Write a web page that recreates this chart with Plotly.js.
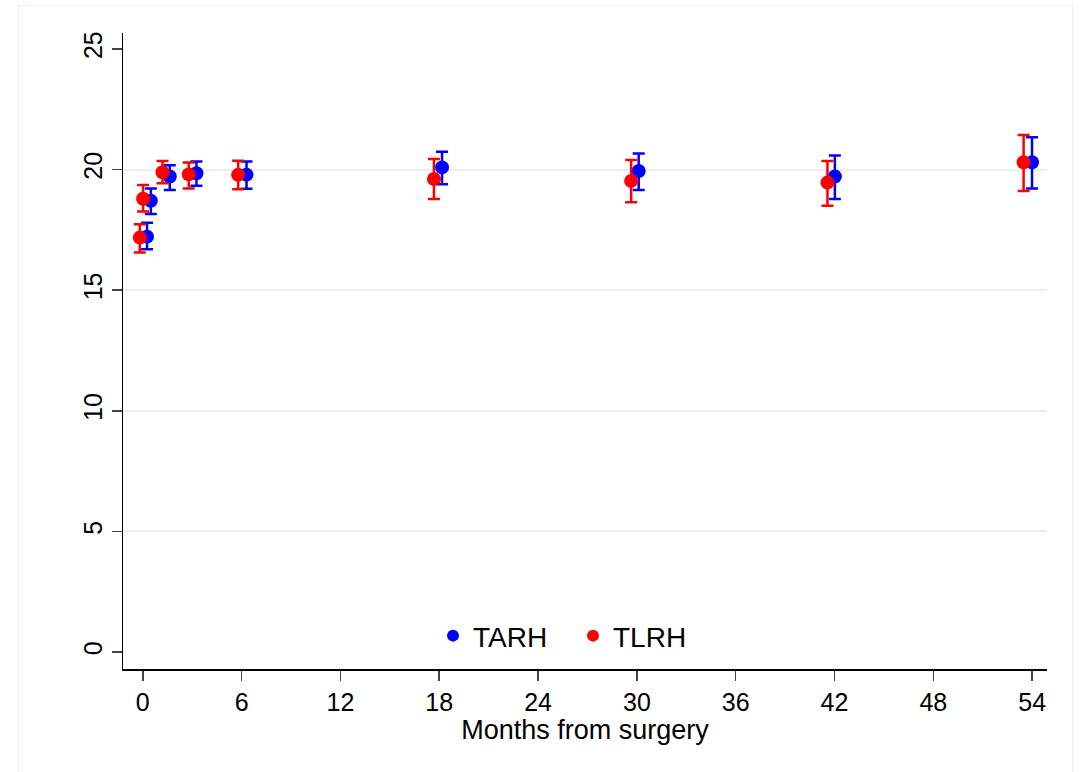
<!DOCTYPE html>
<html>
<head>
<meta charset="utf-8">
<script src="https://cdn.plot.ly/plotly-3.0.1.min.js"></script>
<style>
html,body{margin:0;padding:0;background:#fff;}
#frame{position:absolute;left:18px;top:5px;width:1055px;height:800px;border:1px solid #eaf1f1;box-sizing:border-box;}
#chart{position:absolute;left:0;top:0;width:1084px;height:772px;}
</style>
</head>
<body>
<div id="frame"></div>
<div id="chart"></div>
<script>
// TARH (blue)
const tarhX = [0.26, 0.49, 1.64, 3.26, 6.3, 18.17, 30.11, 42.02, 53.99];
const tarhY = [17.22, 18.71, 19.71, 19.85, 19.79, 20.09, 19.94, 19.71, 20.30];
const tarhHi = [17.80, 19.22, 20.18, 20.33, 20.33, 20.74, 20.67, 20.58, 21.34];
const tarhLo = [16.70, 18.16, 19.15, 19.33, 19.20, 19.39, 19.15, 18.78, 19.22];
// TLRH (red)
const tlrhX = [-0.18, 0.02, 1.2, 2.79, 5.79, 17.68, 29.65, 41.57, 53.48];
const tlrhY = [17.18, 18.79, 19.89, 19.80, 19.78, 19.61, 19.53, 19.46, 20.30];
const tlrhHi = [17.73, 19.36, 20.36, 20.29, 20.37, 20.44, 20.40, 20.36, 21.43];
const tlrhLo = [16.56, 18.26, 19.43, 19.22, 19.18, 18.78, 18.64, 18.50, 19.11];

const xTicks = [0, 6, 12, 18, 24, 30, 36, 42, 48, 54];
const yTicks = [0, 5, 10, 15, 20, 25];
const gridVals = [5, 10, 15, 20];

function mk(name, x, y, hi, lo, color) {
  return {
    type: 'scatter', mode: 'markers', name: name,
    x: x, y: y,
    marker: {color: color, size: 14},
    error_y: {
      type: 'data', symmetric: false,
      array: hi.map((h, i) => h - y[i]),
      arrayminus: lo.map((l, i) => y[i] - l),
      color: color, thickness: 2.5, width: 6
    }
  };
}

const data = [
  {type: 'scatter', x: [], y: [], yaxis: 'y2', showlegend: false, hoverinfo: 'skip'},
  mk('TARH', tarhX, tarhY, tarhHi, tarhLo, '#0000ff'),
  mk('TLRH', tlrhX, tlrhY, tlrhHi, tlrhLo, '#ff0000')
];

const font = {family: 'Liberation Sans, Arial, sans-serif', color: '#000'};
const yr = [-0.7, 25.66];
const layout = {
  width: 1084, height: 772,
  margin: {l: 123, r: 37, t: 33, b: 103},
  paper_bgcolor: 'rgba(0,0,0,0)', plot_bgcolor: 'rgba(0,0,0,0)',
  font: Object.assign({size: 25}, font),
  showlegend: true,
  legend: {orientation: 'h', x: 0.487, xanchor: 'center', y: 0.052, yanchor: 'middle',
           font: Object.assign({size: 28}, font), itemsizing: 'constant', bgcolor: 'rgba(0,0,0,0)',
           entrywidth: 95, entrywidthmode: 'pixels'},
  xaxis: {
    range: [-1.2, 54.9], tickmode: 'array', tickvals: xTicks, ticktext: xTicks.map(String),
    showgrid: false, zeroline: false, showline: true, linecolor: '#000', linewidth: 1.5,
    ticks: 'outside', ticklen: 10, tickcolor: '#444', tickwidth: 1.5,
    tickfont: Object.assign({size: 25}, font),
    title: {text: 'Months from surgery', font: Object.assign({size: 27}, font), standoff: 0}
  },
  yaxis: {
    range: yr, tickmode: 'array', tickvals: yTicks, ticktext: yTicks.map(String),
    showgrid: false, zeroline: false, showline: true, linecolor: '#000', linewidth: 1.5,
    ticks: 'outside', ticklen: 10, tickcolor: '#444', tickwidth: 1.5, tickangle: -90,
    tickfont: Object.assign({size: 25}, font)
  },
  yaxis2: {
    overlaying: 'y', range: yr, tickmode: 'array', tickvals: gridVals,
    showgrid: true, gridcolor: '#e8f0f0', gridwidth: 2, showticklabels: false,
    zeroline: false, showline: false, ticks: ''
  }
};

Plotly.newPlot('chart', data, layout, {displayModeBar: false, staticPlot: true});
</script>
</body>
</html>
